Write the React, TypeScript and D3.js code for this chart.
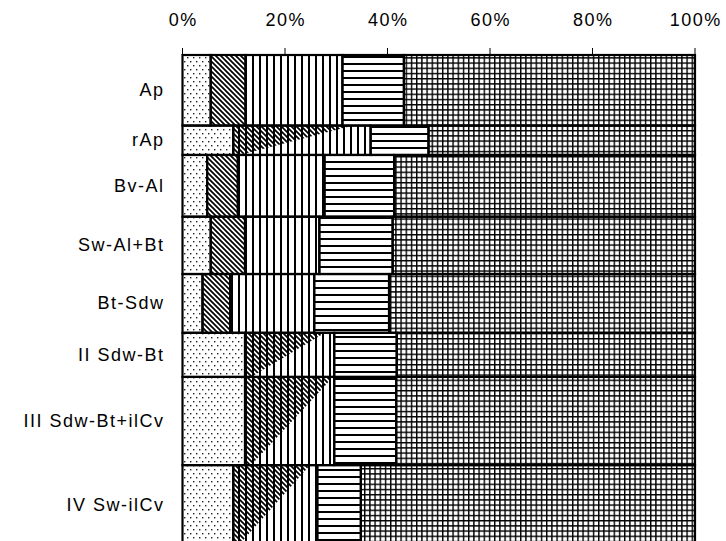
import React from 'react';
import * as d3 from 'd3';

const categories = ["Ap", "rAp", "Bv-Al", "Sw-Al+Bt", "Bt-Sdw", "II Sdw-Bt", "III Sdw-Bt+ilCv", "IV Sw-ilCv"];
const depthTop = [0, 24, 34, 55, 74.5, 94.5, 109.5, 139.5];
const depthBottom = [24, 34, 55, 74.5, 94.5, 109.5, 139.5, 166.5];
const dots = [5.5, 9.9, 4.8, 5.5, 3.9, 12.2, 12.2, 9.9];
const diag = [6.8, 11.7, 6.0, 6.7, 5.4, 7.8, 8.6, 7.5];
const vert = [18.9, 15.1, 16.9, 14.5, 16.4, 9.6, 8.8, 8.9];
const horiz = [12.0, 11.3, 13.6, 14.3, 14.6, 12.2, 12.1, 8.5];
const grid = [56.8, 52.0, 58.7, 59.0, 59.7, 58.2, 58.3, 65.2];
const wedgeRows = [false, true, false, false, false, true, true, true];
const tickValues = [0, 20, 40, 60, 80, 100];
const seriesKeys = ["dots", "diag", "vert", "horiz", "grid"];

const W = 726;
const H = 541;
const FONT = "'Liberation Sans', Arial, sans-serif";
const LS = 1.5;

export default function App() {
  const rows = categories.map((c, i) => ({
    cat: c, i,
    dots: dots[i], diag: diag[i], vert: vert[i], horiz: horiz[i], grid: grid[i],
  }));
  const stacked = d3.stack<any>().keys(seriesKeys)(rows);
  const x = d3.scaleLinear().domain([0, 100]).range([182.5, 695]);
  const y = d3.scaleLinear().domain([0, d3.max(depthBottom) as number]).range([55, 544.5]);

  const fills: React.ReactNode[] = [];
  const outlines: React.ReactNode[] = [];
  stacked.forEach((layer) => {
    const key = layer.key;
    layer.forEach((d, i) => {
      const y0 = y(depthTop[i]);
      const y1 = y(depthBottom[i]);
      let xa = x(d[0]);
      const xb = x(d[1]);
      if (wedgeRows[i] && key === 'diag') {
        const wTop = x(d[0] + 2 * (d[1] - d[0])) - x(d[0]);
        fills.push(
          <polygon key={`f-${key}-${i}`}
            points={`${xa},${y0} ${xa + wTop},${y0} ${xa + 6},${y1} ${xa},${y1}`}
            fill={`url(#p-${key})`} />
        );
        return;
      }
      if (wedgeRows[i] && key === 'vert') {
        xa = x(stacked[1][i][0]);
      }
      fills.push(
        <rect key={`f-${key}-${i}`} x={xa} y={y0} width={xb - xa} height={y1 - y0}
          fill={`url(#p-${key})`} />
      );
    });
  });
  stacked.forEach((layer) => {
    const key = layer.key;
    layer.forEach((d, i) => {
      if (wedgeRows[i] && key === 'diag') return;
      const y0 = y(depthTop[i]);
      const y1 = y(depthBottom[i]);
      let xa = x(d[0]);
      const xb = x(d[1]);
      if (wedgeRows[i] && key === 'vert') xa = x(stacked[1][i][0]);
      outlines.push(
        <rect key={`o-${key}-${i}`} x={xa} y={y0} width={xb - xa} height={y1 - y0}
          fill="none" stroke="#000" strokeWidth={2.2} />
      );
    });
  });

  return (
    <svg width={W} height={H} style={{ position: 'absolute', left: 0, top: 0, background: '#fff' }}>
      <defs>
        <pattern id="p-dots" patternUnits="userSpaceOnUse" width={6} height={8}>
          <rect x={1} y={1} width={1.4} height={1.4} fill="#222" />
          <rect x={4} y={5} width={1.4} height={1.4} fill="#222" />
        </pattern>
        <pattern id="p-diag" patternUnits="userSpaceOnUse" width={5} height={5}>
          <path d="M0,0 L5,5 M-1,4 L1,6 M4,-1 L6,1" stroke="#000" strokeWidth={1.7} />
        </pattern>
        <pattern id="p-vert" patternUnits="userSpaceOnUse" width={7} height={7}>
          <rect x={0} y={0} width={2} height={7} fill="#000" shapeRendering="crispEdges" />
        </pattern>
        <pattern id="p-horiz" patternUnits="userSpaceOnUse" width={7} height={7}>
          <rect x={0} y={0} width={7} height={2} fill="#000" shapeRendering="crispEdges" />
        </pattern>
        <pattern id="p-grid" patternUnits="userSpaceOnUse" width={5.2} height={5.2}>
          <rect x={0} y={0} width={5.2} height={1.4} fill="#000" />
          <rect x={0} y={0} width={1.4} height={5.2} fill="#000" />
        </pattern>
      </defs>
      <rect x={0} y={0} width={W} height={H} fill="#fff" />
      <g>{fills}</g>
      <g>{outlines}</g>
      <line x1={x(0)} x2={x(100)} y1={55} y2={55} stroke="#000" strokeWidth={1} />
      <line x1={x(0)} x2={x(0)} y1={55} y2={H} stroke="#000" strokeWidth={1} />
      {tickValues.map((t) => (
        <g key={`t-${t}`}>
          <line x1={x(t)} x2={x(t)} y1={48} y2={55} stroke="#000" strokeWidth={1} />
          <text x={x(t) + LS / 2} y={26} textAnchor="middle" fontFamily={FONT} fontSize={18}
            letterSpacing={LS} fill="#000">{`${t}%`}</text>
        </g>
      ))}
      {categories.map((c, i) => (
        <text key={`c-${i}`} x={164.5} y={(y(depthTop[i]) + y(depthBottom[i])) / 2}
          textAnchor="end" dominantBaseline="central" fontFamily={FONT} fontSize={18}
          letterSpacing={LS} fill="#000">{c}</text>
      ))}
    </svg>
  );
}
